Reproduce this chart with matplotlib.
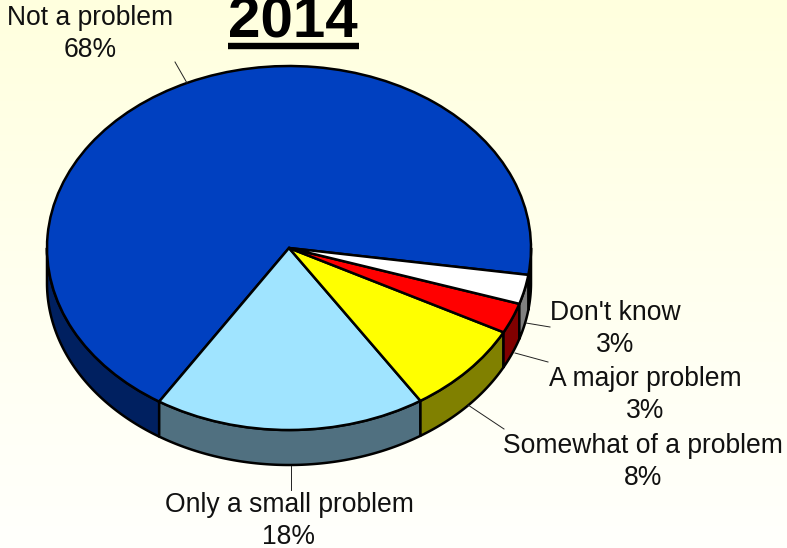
import numpy as np
import matplotlib
matplotlib.use("Agg")
import matplotlib.pyplot as plt

plt.rcParams["font.family"] = ["Liberation Sans", "DejaVu Sans"]

W, H = 787, 548
CX, CY, RX, RY = 289, 248, 242, 182
DEPTH = 35 / RY
START = -8.5

title = "2014"
categories = ["Not a problem", "Only a small problem", "Somewhat of a problem",
              "A major problem", "Don't know"]
# slice sizes, labels show them rounded
values = [68.35, 18.15, 8.2, 2.7, 2.6]
top_colors = ["#0040C0", "#A0E4FF", "#FFFF00", "#FF0000", "#FFFFFF"]
side_colors = ["#002060", "#507080", "#808000", "#800000", "#808080"]
# label centres and leader lines, in pixels of the picture
label_pos = [(90, 34), (289, 521), (643, 462), (645, 395), (615, 329)]
leaders = [((187, 83), (175, 62)), ((291, 466), (291, 490)), ((468, 405), (504, 429)),
           ((515, 353), (548, 362)), ((526, 323), (550, 327))]


def px(x, y):
    return (x - CX) / RX, (CY - y) / RY


fig = plt.figure(figsize=(W / 100, H / 100), dpi=100)

bg = fig.add_axes([0, 0, 1, 1], zorder=0)
grad = np.interp(np.linspace(0, 1, 256), [0, 0.55, 1], [222, 240, 252])
bg.imshow(np.dstack([np.full(256, 255), np.full(256, 255), grad]).reshape(256, 1, 3) / 255,
          aspect="auto")
bg.axis("off")

ax = fig.add_axes([0, 0, 1, 1], zorder=1)
ax.patch.set_alpha(0)

# side wall, only the front half of the disc shows
a0 = START
for v, c in zip(values, side_colors):
    a1 = a0 + v * 3.6
    for shift in (0, 360):
        lo, hi = max(a0 + shift, 180), min(a1 + shift, 360)
        if lo < hi:
            t = np.radians(np.linspace(lo, hi, 100))
            xs = np.r_[np.cos(t), np.cos(t[::-1])]
            ys = np.r_[np.sin(t), np.sin(t[::-1]) - DEPTH]
            ax.fill(xs, ys, facecolor=c, edgecolor="black", linewidth=1.8, joinstyle="round")
    a0 = a1

ax.pie(values, colors=top_colors, startangle=START, counterclock=True, radius=1,
       wedgeprops=dict(edgecolor="black", linewidth=1.8))
ax.set_aspect("auto")
ax.set_xlim(px(0, 0)[0], px(W, 0)[0])
ax.set_ylim(px(0, H)[1], px(0, 0)[1])

for (p, q) in leaders:
    x0, y0 = px(*p)
    x1, y1 = px(*q)
    ax.plot([x0, x1], [y0, y1], color="#222222", linewidth=0.7)

for cat, v, pos in zip(categories, values, label_pos):
    x, y = px(*pos)
    ax.text(x, y, f"{cat}\n{v:.0f}%", ha="center", va="center", multialignment="center",
            fontsize=19.1, color="#111111", linespacing=1.26)

x, y = px(293, 38)
ax.text(x, y, title, ha="center", va="baseline", fontsize=42, fontweight="bold", color="black")
x0, y0 = px(228, 46)
x1, y1 = px(359, 46)
ax.plot([x0, x1], [y0, y1], color="black", linewidth=4.6, solid_capstyle="butt")

fig.savefig("out.png", dpi=100)
plt.close(fig)
